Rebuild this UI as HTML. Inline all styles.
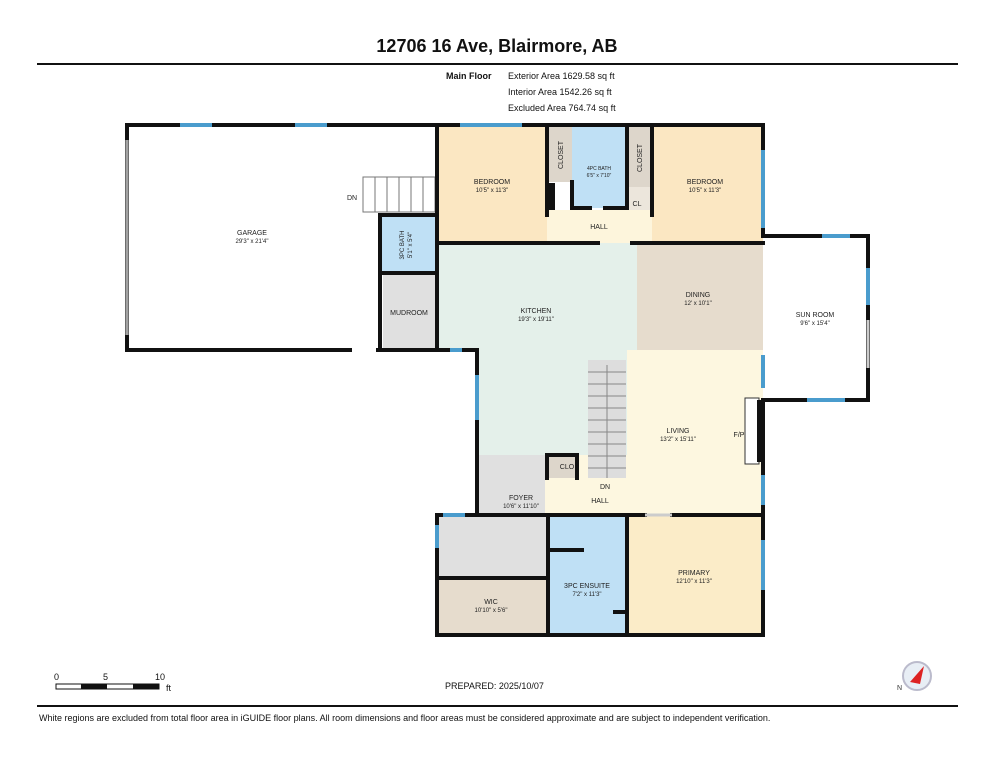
<!DOCTYPE html>
<html><head><meta charset="utf-8"><style>
body{margin:0;background:#fff;width:994px;height:768px;overflow:hidden;font-family:"Liberation Sans",Arial,sans-serif}
svg{display:block}
</style></head><body>
<svg width="994" height="768" viewBox="0 0 994 768" font-family="Liberation Sans, Arial, sans-serif">
<text x="497" y="52" text-anchor="middle" font-size="18" font-weight="bold" fill="#111">12706 16 Ave, Blairmore, AB</text>
<rect x="37" y="63" width="921" height="2" fill="#111"/>
<g font-size="9" fill="#111">
<text x="446" y="79" font-weight="bold">Main Floor</text>
<text x="508" y="79">Exterior Area 1629.58 sq ft</text>
<text x="508" y="95">Interior Area 1542.26 sq ft</text>
<text x="508" y="111">Excluded Area 764.74 sq ft</text>
</g>
<!-- fills -->
<rect x="437" y="125" width="110" height="118" fill="#fbe7c2"/>
<rect x="547" y="125" width="25" height="57" fill="#ddd6cb"/>
<rect x="572" y="125" width="55" height="83" fill="#bfe0f5"/>
<rect x="627" y="125" width="25" height="62" fill="#ddd6cb"/>
<rect x="627" y="187" width="25" height="25" fill="#ece6dc"/>
<rect x="547" y="210" width="105" height="33" fill="#fdf5dc"/>
<rect x="652" y="125" width="111" height="118" fill="#fbe7c2"/>
<rect x="437" y="243" width="200" height="107" fill="#e4f0ea"/>
<rect x="477" y="350" width="150" height="105" fill="#e4f0ea"/>
<rect x="637" y="243" width="126" height="107" fill="#e6dccd"/>
<rect x="627" y="350" width="136" height="165" fill="#fdf7e0"/>
<rect x="545" y="455" width="82" height="60" fill="#fdf7e0"/>
<rect x="477" y="455" width="68" height="60" fill="#e0e0e0"/>
<rect x="437" y="515" width="111" height="63" fill="#e0e0e0"/>
<rect x="437" y="578" width="111" height="57" fill="#e6dccd"/>
<rect x="548" y="515" width="79" height="120" fill="#bfe0f5"/>
<rect x="627" y="515" width="136" height="120" fill="#fbecc8"/>
<rect x="383" y="275" width="54" height="73" fill="#e0e0e0"/>
<rect x="380" y="215" width="57" height="58" fill="#bfe0f5"/>
<rect x="547" y="455" width="30" height="23" fill="#ddd6cb"/>
<!-- stairs -->
<rect x="588" y="360" width="38" height="118" fill="#ddd"/>
<g stroke="#888" stroke-width="1">
<line x1="588" y1="372" x2="626" y2="372"/><line x1="588" y1="384" x2="626" y2="384"/><line x1="588" y1="396" x2="626" y2="396"/><line x1="588" y1="408" x2="626" y2="408"/><line x1="588" y1="420" x2="626" y2="420"/><line x1="588" y1="432" x2="626" y2="432"/><line x1="588" y1="444" x2="626" y2="444"/><line x1="588" y1="456" x2="626" y2="456"/><line x1="588" y1="468" x2="626" y2="468"/><line x1="607" y1="365" x2="607" y2="478"/>
</g>
<g stroke="#777" stroke-width="1" fill="none">
<rect x="363" y="177" width="72" height="35"/>
<line x1="375" y1="177" x2="375" y2="212"/><line x1="387" y1="177" x2="387" y2="212"/><line x1="399" y1="177" x2="399" y2="212"/><line x1="411" y1="177" x2="411" y2="212"/><line x1="423" y1="177" x2="423" y2="212"/>
</g>
<!-- walls -->
<g stroke="#111" stroke-width="4" fill="none" stroke-linecap="square">
<polyline points="127,125 763,125 763,236 868,236 868,400 763,400 763,635 437,635 437,515 477,515 477,350 437,350"/>
<line x1="127" y1="125" x2="127" y2="350"/>
<line x1="127" y1="350" x2="350" y2="350"/>
<line x1="378" y1="350" x2="437" y2="350"/>
<line x1="437" y1="125" x2="437" y2="350"/>
<line x1="437" y1="243" x2="598" y2="243"/>
<line x1="632" y1="243" x2="763" y2="243"/>
<line x1="547" y1="125" x2="547" y2="215"/>
<line x1="652" y1="125" x2="652" y2="215"/>
<line x1="572" y1="182" x2="572" y2="208"/>
<line x1="627" y1="125" x2="627" y2="208"/>
<line x1="572" y1="208" x2="590" y2="208"/><line x1="605" y1="208" x2="627" y2="208"/>
<line x1="380" y1="215" x2="437" y2="215"/>
<line x1="380" y1="215" x2="380" y2="348"/>
<line x1="380" y1="273" x2="437" y2="273"/>
<line x1="437" y1="515" x2="545" y2="515"/>
<line x1="548" y1="515" x2="548" y2="635"/>
<line x1="437" y1="578" x2="548" y2="578"/>
<line x1="545" y1="515" x2="645" y2="515"/>
<line x1="672" y1="515" x2="763" y2="515"/>
<line x1="627" y1="515" x2="627" y2="635"/>
<line x1="548" y1="550" x2="582" y2="550"/>
<line x1="615" y1="612" x2="627" y2="612"/>
<polyline points="547,478 547,455 577,455 577,478"/>
<line x1="763" y1="400" x2="763" y2="470"/>
</g>
<rect x="545" y="183" width="10" height="27" fill="#111"/>
<!-- windows -->
<g stroke="#4a9ccd" stroke-width="4">
<line x1="180" y1="125" x2="212" y2="125"/><line x1="295" y1="125" x2="327" y2="125"/>
<line x1="460" y1="125" x2="522" y2="125"/>
<line x1="763" y1="150" x2="763" y2="228"/>
<line x1="822" y1="236" x2="850" y2="236"/><line x1="868" y1="268" x2="868" y2="305"/>
<line x1="807" y1="400" x2="845" y2="400"/>
<line x1="763" y1="355" x2="763" y2="388"/><line x1="763" y1="475" x2="763" y2="505"/><line x1="763" y1="540" x2="763" y2="590"/>
<line x1="477" y1="375" x2="477" y2="420"/><line x1="450" y1="350" x2="462" y2="350"/>
<line x1="443" y1="515" x2="465" y2="515"/><line x1="437" y1="525" x2="437" y2="548"/>
</g>
<g stroke="#ccc" stroke-width="3"><line x1="127" y1="140" x2="127" y2="335"/><line x1="868" y1="320" x2="868" y2="368"/><line x1="645" y1="515" x2="672" y2="515"/></g>
<line x1="127" y1="140" x2="127" y2="335" stroke="#777" stroke-width="1"/>
<!-- F/P -->
<rect x="745" y="398" width="14" height="66" fill="#fff" stroke="#333" stroke-width="1"/>
<rect x="757" y="400" width="6" height="62" fill="#111"/>
<!-- labels -->
<g font-size="7" fill="#222" text-anchor="middle">
<text x="252" y="235">GARAGE</text><text x="252" y="243" font-size="6">29'3" x 21'4"</text>
<text x="492" y="184">BEDROOM</text><text x="492" y="192" font-size="6">10'5" x 11'3"</text>
<text x="705" y="184">BEDROOM</text><text x="705" y="192" font-size="6">10'5" x 11'3"</text>
<text x="599" y="170" font-size="5">4PC BATH</text><text x="599" y="177" font-size="5">6'5" x 7'10"</text>
<text x="599" y="229">HALL</text>
<text x="637" y="206">CL</text>
<text x="536" y="313">KITCHEN</text><text x="536" y="321" font-size="6">19'3" x 19'11"</text>
<text x="698" y="297">DINING</text><text x="698" y="305" font-size="6">12' x 10'1"</text>
<text x="815" y="317">SUN ROOM</text><text x="815" y="325" font-size="6">9'6" x 15'4"</text>
<text x="678" y="433">LIVING</text><text x="678" y="441" font-size="6">13'2" x 15'11"</text>
<text x="739" y="437">F/P</text>
<text x="409" y="315">MUDROOM</text>
<text x="567" y="469">CLO</text>
<text x="605" y="489">DN</text>
<text x="600" y="503">HALL</text>
<text x="521" y="500">FOYER</text><text x="521" y="508" font-size="6">10'6" x 11'10"</text>
<text x="491" y="604">WIC</text><text x="491" y="612" font-size="6">10'10" x 5'6"</text>
<text x="587" y="588">3PC ENSUITE</text><text x="587" y="596" font-size="6">7'2" x 11'3"</text>
<text x="694" y="575">PRIMARY</text><text x="694" y="583" font-size="6">12'10" x 11'3"</text>
<text x="352" y="200">DN</text>
</g>
<g font-size="7" fill="#222" text-anchor="middle">
<text transform="translate(563,155) rotate(-90)">CLOSET</text>
<text transform="translate(642,158) rotate(-90)">CLOSET</text>
<text transform="translate(404,245) rotate(-90)" font-size="6">3PC BATH</text>
<text transform="translate(412,245) rotate(-90)" font-size="6">5'1" x 5'4"</text>
</g>
<!-- scale -->
<g font-size="9" fill="#111">
<text x="54" y="680">0</text><text x="103" y="680">5</text><text x="155" y="680">10</text><text x="166" y="691">ft</text>
</g>
<rect x="56" y="684" width="103" height="5" fill="#fff" stroke="#111" stroke-width="1"/>
<rect x="81" y="684" width="26" height="5" fill="#111"/><rect x="133" y="684" width="26" height="5" fill="#111"/>
<text x="445" y="689" font-size="9" fill="#111">PREPARED: 2025/10/07</text>
<circle cx="917" cy="676" r="14" fill="#e8eef5" stroke="#bbc" stroke-width="2"/>
<polygon points="910,682 924,666 920,684" fill="#d22"/>
<text x="897" y="690" font-size="7" fill="#333">N</text>
<rect x="37" y="705" width="921" height="2" fill="#111"/>
<text x="39" y="721" font-size="9" fill="#111">White regions are excluded from total floor area in iGUIDE floor plans. All room dimensions and floor areas must be considered approximate and are subject to independent verification.</text>
</svg>
</body></html>
